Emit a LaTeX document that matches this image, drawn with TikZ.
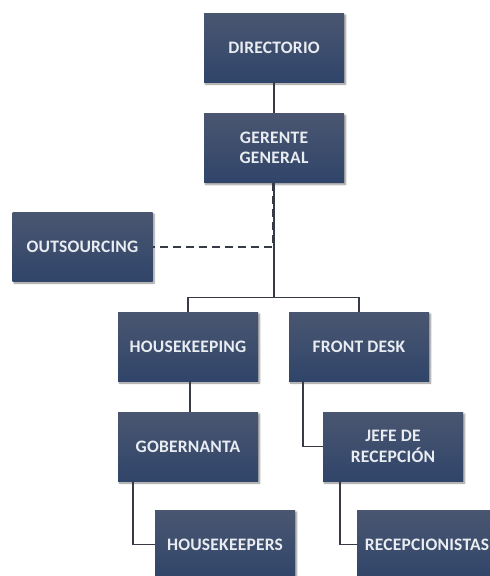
\documentclass[tikz,border=0pt]{standalone}
\usepackage{fontspec}
\newfontfamily\boxfont{Carlito}[LetterSpace=1.2]
\usetikzlibrary{shadows.blur}
\definecolor{boxtop}{HTML}{4A5670}
\definecolor{boxbottom}{HTML}{30456A}
\definecolor{boxtext}{HTML}{E9EDF2}
\definecolor{linkcol}{HTML}{363B46}
\tikzset{
  orgbox/.style={rectangle, minimum width=140pt, minimum height=69pt, inner sep=0pt,
    top color=boxtop, bottom color=boxbottom, draw=none, text=boxtext, align=center,
    font=\boxfont\bfseries\fontsize{17.5}{20.5}\selectfont,
    blur shadow={shadow xshift=1.5pt, shadow yshift=-2pt, shadow blur steps=6, shadow opacity=45}},
  link/.style={draw=linkcol, line width=1.8pt},
  dashlink/.style={draw=linkcol, line width=2pt, dash pattern=on 8pt off 5pt}
}
\begin{document}
\begin{tikzpicture}[x=1pt, y=1pt]
  \useasboundingbox (0,0) rectangle (490,-576);
  % org chart boxes
  \node[orgbox] (dir) at (274,-47.5) {DIRECTORIO};
  \node[orgbox] (ger) at (274,-148) {GERENTE\\GENERAL};
  \node[orgbox] (out) at (82.5,-246.5) {OUTSOURCING};
  \node[orgbox] (hk) at (188,-346.5) {HOUSEKEEPING};
  \node[orgbox] (fd) at (359,-346.5) {FRONT DESK};
  \node[orgbox] (gob) at (188,-446.5) {GOBERNANTA};
  \node[orgbox] (jefe) at (393,-446.5) {JEFE DE\\RECEPCIÓN};
  \node[orgbox] (hks) at (225,-544.5) {HOUSEKEEPERS};
  \node[orgbox] (rec) at (427,-544.5) {RECEPCIONISTAS};
  % branch point below the general manager
  \coordinate (branch) at (274,-297.5);
  % connectors
  \draw[link] (dir.south) -- (ger.north);
  \draw[link] (ger.south) -- (branch);
  \draw[dashlink] ([xshift=-1pt]ger.south) |- (out.east);
  \draw[link] (hk.north) |- (branch) -| (fd.north);
  \draw[link] ([xshift=2pt]hk.south) -- ([xshift=2pt]gob.north);
  \draw[link] ([xshift=14pt]fd.south west) |- (jefe.west);
  \draw[link] ([xshift=15pt]gob.south west) |- (hks.west);
  \draw[link] ([xshift=17pt]jefe.south west) |- (rec.west);
\end{tikzpicture}
\end{document}
